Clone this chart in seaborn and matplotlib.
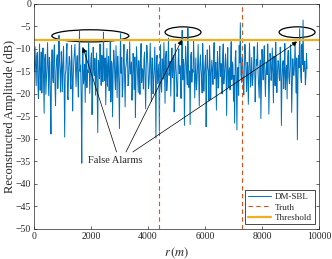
import numpy as np
import pandas as pd
import matplotlib
matplotlib.use("Agg")
import matplotlib.pyplot as plt
import seaborn as sns
from matplotlib.patches import Ellipse

# reconstructed amplitude (dB), one sample every 40 m (r = 0, 40, ...)
step = 40
amp_db = [
    -12.5, -9.5, -18.2, -10.8, -21.0, -8.9, -15.6, -19.8, -9.8, -24.3, -11.2, -16.9,
    -8.6, -20.4, -13.1, -28.9, -10.2, -17.5, -9.1, -22.6, -12.4, -18.8, -7.0, -15.3,
    -10.6, -19.5, -9.4, -29.6, -14.8, -8.8, -21.3, -11.7, -17.2, -9.2, -23.8, -12.9,
    -9.0, -18.4, -11.5, -20.7, -6.1, -13.6, -35.4, -9.7, -16.3, -21.9, -10.4, -14.7,
    -8.7, -19.9, -12.2, -24.6, -9.6, -15.9, -20.3, -10.9, -28.6, -13.4, -8.9, -18.1,
    -11.8, -6.3, -17.0, -22.4, -9.9, -14.2, -19.3, -8.5, -12.7, -25.1, -10.3, -16.6,
    -9.3, -20.8, -14.0, -27.7, -6.6, -11.9, -18.7, -9.0, -22.9, -13.3, -10.1, -17.8,
    -8.4, -15.1, -21.4, -11.0, -19.0, -25.2, -9.5, -16.1, -12.6, -20.1, -8.8, -14.4,
    -18.9, -10.7, -23.3, -9.2, -13.9, -17.6, -8.7, -21.7, -12.1, -16.8, -9.6, -29.8,
    -11.4, -15.7, -28.3, -9.1, -19.6, -13.0, -8.6, -22.1, -10.5, -17.3, -7.6, -14.9,
    -20.5, -9.8, -12.8, -24.0, -8.9, -16.4, -19.2, -10.0, -13.7, -21.0, -5.9, -12.3,
    -27.0, -9.4, -15.5, -5.3, -18.6, -26.8, -10.8, -14.6, -8.3, -20.9, -12.0, -17.1,
    -9.0, -22.7, -11.3, -16.2, -8.8, -19.4, -13.5, -27.3, -10.2, -15.0, -9.3, -21.2,
    -12.5, -17.9, -8.6, -14.3, -23.6, -10.6, -18.3, -9.4, -13.2, -20.0, -8.9, -16.0,
    -11.1, -24.8, -9.7, -15.4, -19.1, -8.4, -12.9, -21.6, -26.5, -10.4, -28.0, -14.1,
    -9.2, -4.2, -17.4, -11.6, -20.2, -9.0, -15.8, -13.0, -22.3, -8.7, -18.5, -11.9,
    -16.7, -9.5, -21.8, -12.4, -8.6, -18.0, -14.5, -25.5, -10.1, -16.9, -9.3, -20.6,
    -13.1, -8.9, -24.5, -11.0, -17.0, -9.8, -22.0, -14.0, -8.5, -19.7, -12.6, -16.5,
    -9.6, -27.0, -13.8, -18.8, -8.8, -15.2, -21.1, -10.3, -17.7, -9.1, -24.1, -12.2,
    -15.9, -8.3, -19.8, -30.2, -11.5, -5.5, -16.3, -9.0, -3.6, -13.5, -18.0, -11.0,
]
# samples in between (r = 20, 60, ...)
amp_db_mid = [
    -15.1, -13.8, -11.6, -17.4, -12.9, -19.2, -10.7, -14.0, -16.8, -12.2, -20.1, -13.5,
    -14.7, -11.9, -22.0, -13.6, -16.2, -10.9, -18.1, -14.9, -11.3, -15.5, -12.8, -19.6,
    -13.9, -12.4, -17.0, -15.8, -11.1, -20.4, -14.2, -12.6, -18.9, -13.1, -16.4, -10.8,
    -14.5, -13.2, -16.7, -11.8, -15.0, -21.3, -12.7, -17.8, -13.4, -11.5, -18.6, -15.3,
    -13.0, -16.1, -10.9, -17.9, -14.4, -12.1, -15.7, -19.4, -12.5, -16.6, -14.1, -11.4,
    -17.3, -13.7, -12.0, -15.9, -18.3, -11.7, -14.8, -21.8, -13.3, -15.2, -12.3, -19.0,
    -14.6, -11.6, -17.6, -13.8, -15.4, -20.7, -12.4, -16.0, -14.3, -11.0, -18.2, -13.6,
    -15.6, -12.9, -17.1, -14.0, -11.8, -16.5, -13.1, -19.7, -15.1, -12.6, -17.5, -14.8,
    -12.3, -16.9, -14.1, -11.2, -18.8, -13.9, -15.3, -12.0, -20.0, -14.6, -16.2, -12.8,
    -17.7, -13.4, -15.0, -18.4, -12.2, -16.7, -14.5, -11.9, -19.3, -13.0, -15.9, -12.7,
    -14.2, -16.4, -11.5, -17.2, -13.8, -20.6, -12.6, -15.5, -14.7, -11.3, -16.9, -13.5,
    -15.8, -12.1, -18.0, -13.3, -14.9, -11.7, -17.4, -15.2, -12.5, -16.3, -19.1, -13.9,
    -16.0, -13.6, -14.4, -19.8, -12.9, -15.6, -11.4, -17.0, -14.0, -21.5, -13.2, -15.7,
    -14.8, -11.8, -16.6, -13.0, -15.1, -18.7, -12.4, -16.1, -14.3, -11.6, -17.8, -13.7,
    -15.4, -12.7, -18.5, -14.2, -11.9, -16.8, -13.5, -15.9, -12.2, -17.3, -14.6, -20.3,
    -13.1, -15.8, -12.0, -17.6, -14.1, -11.5, -19.5, -13.8, -16.0, -12.8, -15.3, -18.1,
    -14.4, -12.3, -16.5, -13.6, -15.0, -20.9, -12.5, -17.1, -13.9, -11.7, -16.3, -14.9,
    -15.7, -13.2, -17.9, -12.1, -14.7, -16.4, -11.6, -18.2, -13.4, -15.5, -12.9, -17.0,
    -14.0, -16.7, -12.6, -15.1, -19.0, -13.7, -11.9, -16.2, -14.5, -12.4, -17.7, -15.6,
    -13.3, -15.2, -12.0, -16.9, -14.2, -11.8, -17.5, -13.5, -15.0, -12.7, -16.1, -14.4,
]
truth_r = [4400, 7300]
threshold_db = -8.0

# false alarm markers: ellipse centre x, centre y, width, height
alarm_x = [1980, 5230, 9230]
alarm_y = [-7.1, -6.3, -6.3]
alarm_w = [2700, 1260, 1260]
alarm_h = [2.7, 2.4, 2.4]
arrow_tip_x = [1720, 5190, 9230]
arrow_tip_y = [-9.7, -8.0, -8.4]
arrow_tail_x = [2900, 3230, 3470]

r = np.arange(len(amp_db)) * step
df = pd.DataFrame({
    "r": np.column_stack([r, r + step // 2]).ravel(),
    "amp": np.column_stack([amp_db, amp_db_mid]).ravel(),
})

sns.set_style("ticks")
plt.rcParams["font.family"] = ["Liberation Serif", "DejaVu Serif"]
plt.rcParams["mathtext.fontset"] = "stix"

fig = plt.figure(figsize=(3.32, 2.59), dpi=100)
ax = fig.add_axes([0.102, 0.116, 0.859, 0.869])

sns.lineplot(data=df, x="r", y="amp", ax=ax, color="#0072BD", lw=0.7, label="DM-SBL")
for i, t in enumerate(truth_r):
    ax.axvline(t, color="#D95319", ls="--", lw=0.8, dashes=(4, 3),
               label="Truth" if i == 0 else None)
ax.axhline(threshold_db, color="#EDB120", lw=1.6, label="Threshold")

for cx, cy, w, h in zip(alarm_x, alarm_y, alarm_w, alarm_h):
    ax.add_patch(Ellipse((cx, cy), w, h, fill=False, ec="black", lw=0.9))

ax.text(2860, -34.7, "False Alarms", ha="center", va="center", fontsize=7.5)
for tx, ty, sx in zip(arrow_tip_x, arrow_tip_y, arrow_tail_x):
    ax.annotate("", xy=(tx, ty), xytext=(sx, -32.9),
                arrowprops=dict(arrowstyle="-|>", color="black", lw=0.5,
                                mutation_scale=7, shrinkA=0, shrinkB=0))

ax.set_xlim(0, 10000)
ax.set_ylim(-50, 0)
ax.set_xticks(range(0, 10001, 2000))
ax.set_yticks(range(-50, 1, 5))
ax.tick_params(direction="in", length=2.5, width=0.5, labelsize=7,
               top=True, right=True, pad=2)
for s in ax.spines.values():
    s.set_linewidth(0.5)
    s.set_color("#262626")
ax.set_xlabel(r"$r\,(m)$", fontsize=9, labelpad=3)
ax.set_ylabel("Reconstructed Amplitude (dB)", fontsize=9, labelpad=0)

leg = ax.legend(loc="lower right", fontsize=6.5, frameon=True, fancybox=False,
                edgecolor="black", framealpha=1, borderpad=0.3, labelspacing=0.2,
                handlelength=2.6, handletextpad=0.4, borderaxespad=0.5)
leg.get_frame().set_linewidth(0.5)

fig.savefig("out.png", dpi=100)
